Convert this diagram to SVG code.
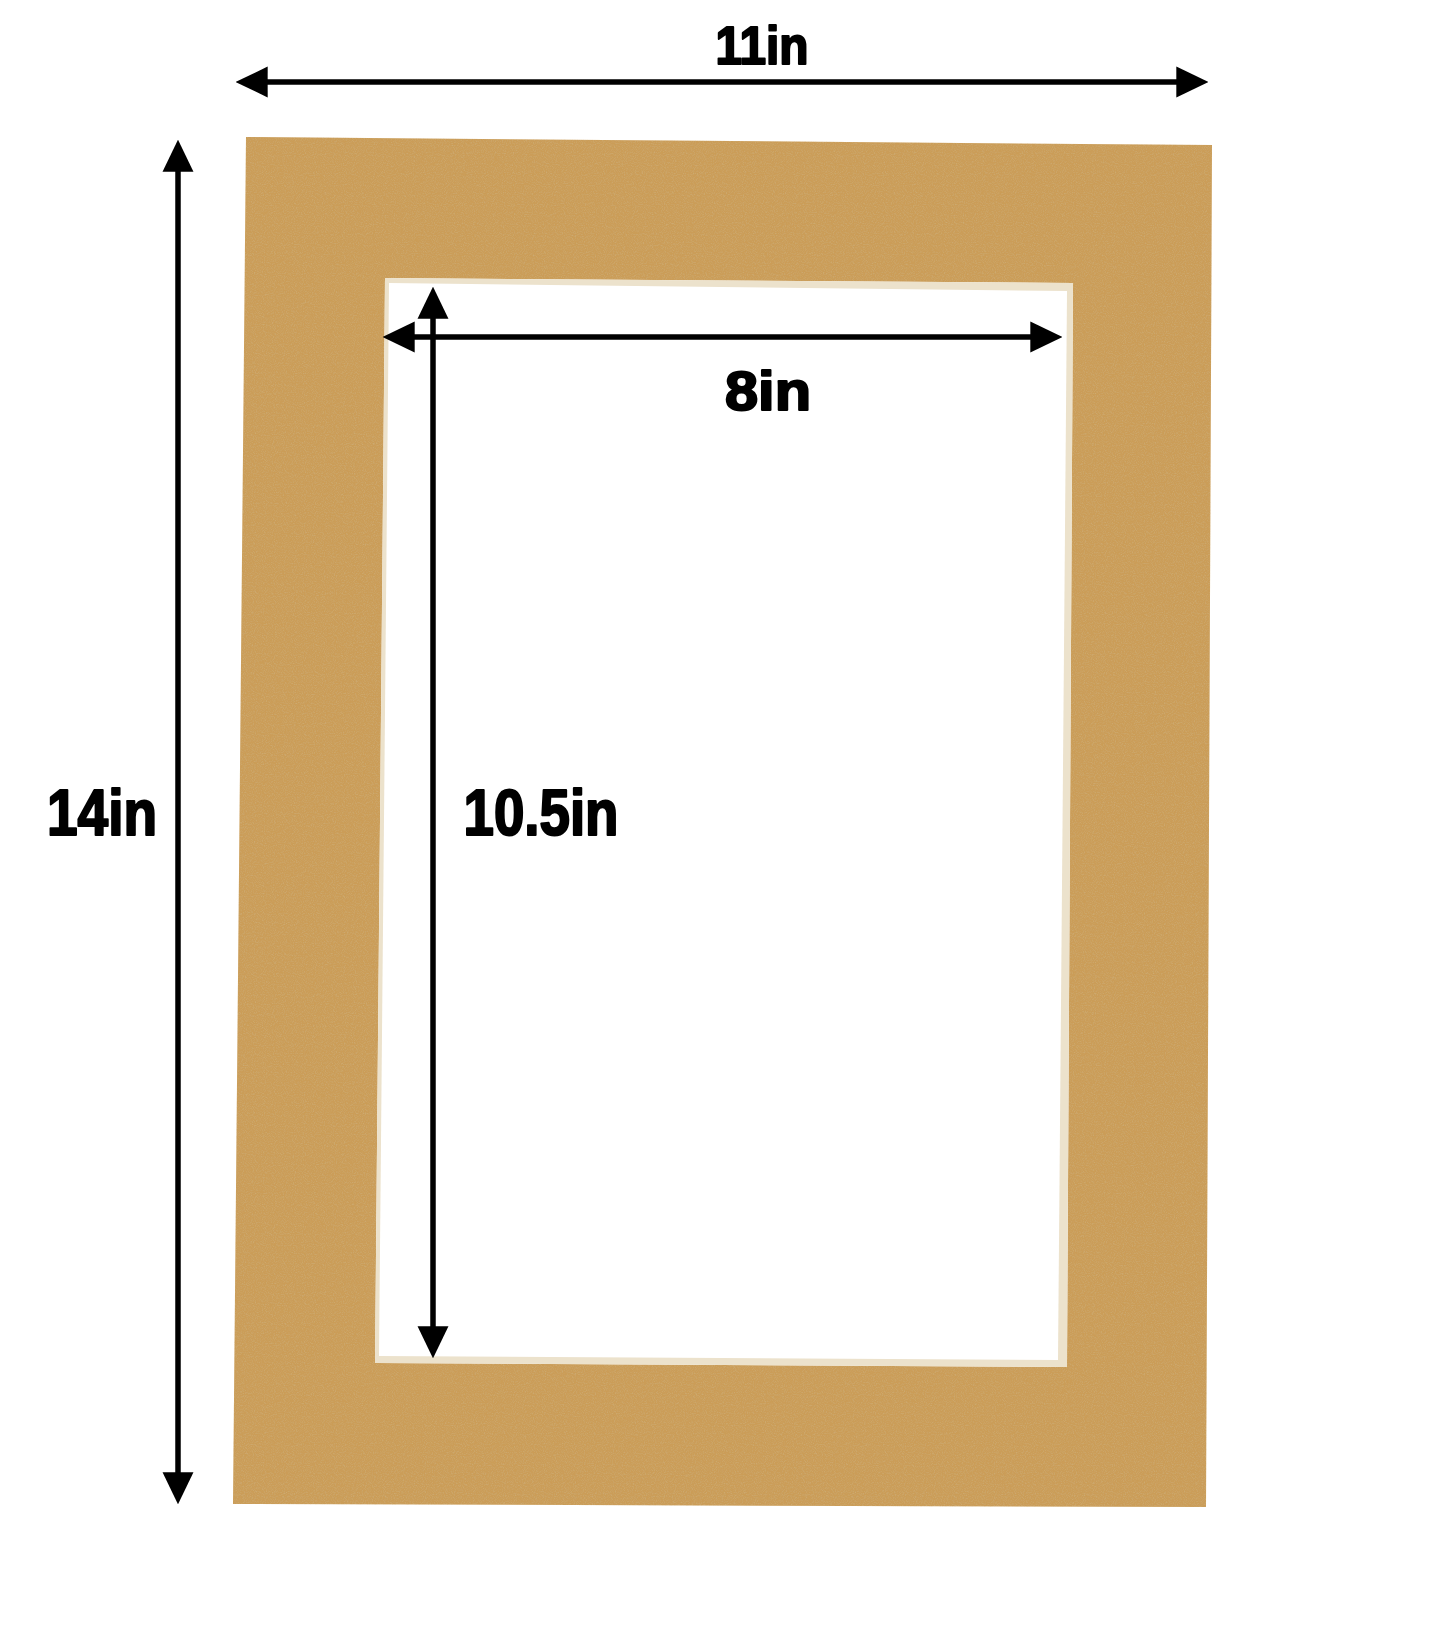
<svg xmlns="http://www.w3.org/2000/svg" width="1445" height="1645" viewBox="0 0 1445 1645">
<style>
.lbl{font-family:"Liberation Sans",Arial,sans-serif;font-weight:700;fill:#000;stroke:#000;stroke-width:2.2;stroke-linejoin:round;text-anchor:middle}
.dim{stroke:#000;stroke-width:5.5;fill:none;marker-start:url(#ah);marker-end:url(#ah)}
</style>
<defs>
<marker id="ah" markerUnits="userSpaceOnUse" markerWidth="32" markerHeight="32" viewBox="0 0 30 30" refX="10" refY="15" orient="auto-start-reverse">
<path d="M0,0.5 L30,15 L0,29.5 Z" fill="#000"/>
</marker>
<filter id="grain" x="0" y="0" width="100%" height="100%">
<feTurbulence type="fractalNoise" baseFrequency="0.9" numOctaves="2" seed="7" result="n"/>
<feColorMatrix in="n" type="matrix" values="0 0 0 0 0.62  0 0 0 0 0.44  0 0 0 0 0.2  1.4 0 0 0 -0.6" result="c"/>
<feComposite in="c" in2="SourceGraphic" operator="in" result="s"/>
<feMerge><feMergeNode in="SourceGraphic"/><feMergeNode in="s"/></feMerge>
</filter>
</defs>
<rect width="1445" height="1645" fill="#fff"/>
<g id="mat">
<path d="M246,137 L1212,145 L1206,1507 L233,1504 Z M385,278 L375,1363 L1067,1367 L1073,283 Z" fill="#cb9d58" fill-rule="evenodd" filter="url(#grain)"/>
</g>
<g id="opening">
<path d="M385,278 L1073,283 L1067,1367 L375,1363 Z" fill="#ece2cc"/>
<path d="M389,283 L1067,291 L1058,1360 L379,1356 Z" fill="#fff"/>
</g>
<g id="connectors">
<line class="dim" x1="257" y1="82" x2="1187" y2="82"/>
<line class="dim" x1="178" y1="161" x2="178" y2="1483"/>
<line class="dim" x1="404" y1="337" x2="1041" y2="337"/>
<line class="dim" x1="433" y1="308" x2="433" y2="1337"/>
</g>
<g id="labels">
<text class="lbl" x="762" y="64" font-size="54" textLength="93" lengthAdjust="spacingAndGlyphs">11in</text>
<text class="lbl" x="768" y="410" font-size="56" textLength="86" lengthAdjust="spacingAndGlyphs">8in</text>
<text class="lbl" x="102" y="835" font-size="64" textLength="110" lengthAdjust="spacingAndGlyphs">14in</text>
<text class="lbl" x="541" y="835" font-size="64" textLength="155" lengthAdjust="spacingAndGlyphs">10.5in</text>
</g>
</svg>
